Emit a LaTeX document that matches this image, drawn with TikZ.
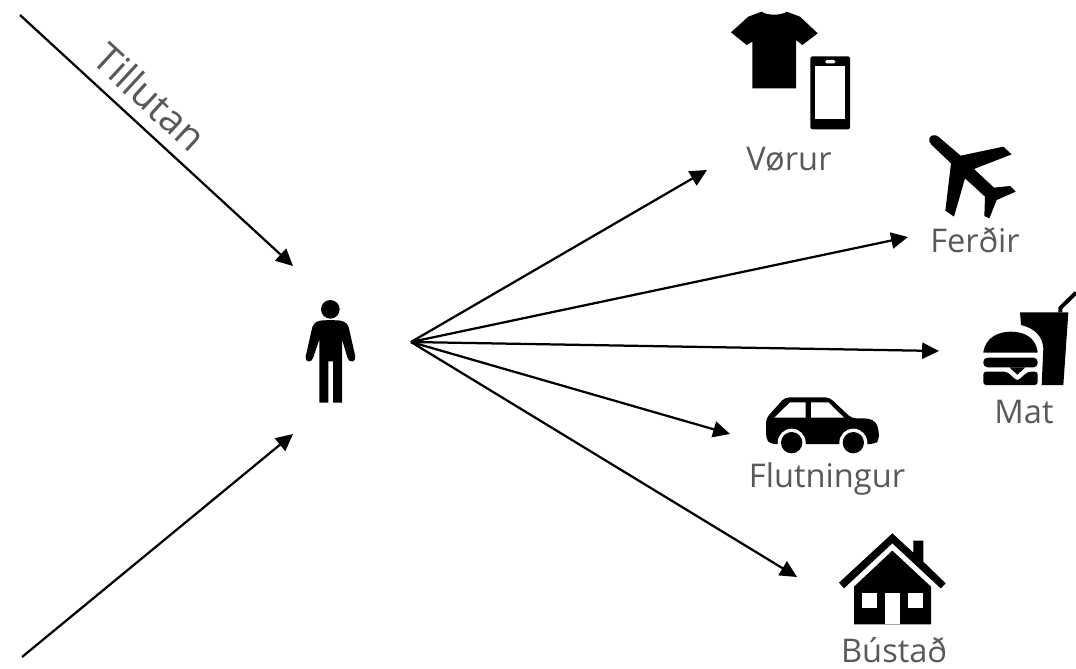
\documentclass[tikz,border=0pt]{standalone}
\usepackage{fontspec}
\setmainfont{Open Sans}
\usetikzlibrary{arrows.meta,positioning}
\definecolor{labelgray}{HTML}{595959}
\tikzset{
  flow/.style={line width=1.6pt,-{Triangle[length=12pt,width=11.5pt]}},
  itemlabel/.style={text=labelgray,font=\fontsize{23.2}{27}\selectfont,inner sep=0pt,anchor=base},
  icon/.style={fill=black,draw=none}
}
\begin{document}
\begin{tikzpicture}[x=0.025cm,y=-0.025cm]
\useasboundingbox (0,0) rectangle (1076,669);
% Arrow ends
\coordinate (hub) at (411,342);
\coordinate (topin) at (20,15);
\coordinate (topend) at (293,266);
\coordinate (lowin) at (22,657);
\coordinate (lowend) at (293,434);
\coordinate (goods) at (707,170);
\coordinate (travel) at (908,237);
\coordinate (food) at (939,351);
\coordinate (transport) at (730,434);
\coordinate (housing) at (797,577);
\draw[flow] (topin) -- (topend);
\draw[flow] (lowin) -- (lowend);
\foreach \target in {goods,travel,food,transport,housing}
  \draw[flow] (hub) -- (\target);
% Labels
\node[itemlabel,font=\fontsize{28}{32}\selectfont,rotate=-42.7] (tillutan) at (140,108) {Tillutan};
\node[itemlabel] (vorur) at (789,171) {Vørur};
\node[itemlabel] (ferdir) at (975,252) {Ferðir};
\node[itemlabel] (mat) at (1024,423) {Mat};
\node[itemlabel] (flutningur) at (827,487) {Flutningur};
\node[itemlabel] (bustad) at (894,662) {Bústað};
% Person
\begin{scope}[shift={(270,240)},scale=1/3]
\fill[icon] (181,208) circle (28);
\fill[icon] (150,242) .. controls (165,240) and (197,240) .. (212,242)
  .. controls (228,245) and (236,255) .. (238,270) -- (256,350)
  .. controls (258,368) and (236,370) .. (232,352) -- (216,298)
  -- (216,488) -- (189,488) -- (189,364) -- (175,364) -- (175,488) -- (148,488)
  -- (148,298) -- (130,352) .. controls (126,370) and (104,368) .. (107,350)
  -- (125,270) .. controls (127,255) and (135,245) .. (150,242) -- cycle;
\end{scope}
% Shirt and phone
\begin{scope}[shift={(720,0)},scale=1/3]
\fill[icon] (125,35) .. controls (140,47) and (185,47) .. (200,35) -- (240,50) -- (293,100)
  -- (247,135) -- (228,120) -- (228,265) -- (97,265) -- (97,125) -- (80,135) -- (33,97)
  -- (85,50) -- cycle;
\fill[icon,rounded corners=1.5pt] (271,169) rectangle (390,388);
\fill[white] (286,198) rectangle (376,358);
\fill[white,rounded corners=1pt] (316,180) rectangle (346,190);
% Plane
\fill[icon] (628,415) .. controls (632,405) and (645,402) .. (655,410) -- (722,467) -- (850,440)
  -- (875,463) -- (762,507) -- (822,563) -- (870,558) -- (887,575) -- (830,600) -- (808,655)
  -- (793,648) -- (795,590) -- (735,535) -- (702,650) -- (676,632) -- (693,490) -- (635,435)
  .. controls (628,428) and (626,422) .. (628,415) -- cycle;
\end{scope}
% Burger and cup, car, house
\begin{scope}[shift={(740,280)},scale=1/3]
\fill[icon] (730,218) .. controls (735,170) and (780,155) .. (812,155)
  .. controls (850,155) and (888,170) .. (893,218) -- cycle;
\fill[icon,rounded corners=3pt] (730,233) rectangle (893,262);
\fill[icon] (808,262) -- (832,284) -- (856,262) -- cycle;
\fill[icon,rounded corners=2pt] (730,275) -- (800,275) -- (832,303) -- (864,275) -- (893,275)
  -- (893,315) -- (730,315) -- cycle;
\fill[icon] (840,97) -- (985,97) -- (970,315) -- (905,315) -- (910,205)
  .. controls (908,170) and (885,145) .. (843,135) -- cycle;
\draw[line width=2.8pt] (961,97) -- (961,84) -- (1008,38);
% Car
\fill[icon,rounded corners=3pt] (78,415) -- (135,352) -- (268,352) -- (335,415) -- (385,415)
  -- (408,425) -- (417,455) -- (417,480) -- (405,492) -- (90,492) -- (78,475) -- cycle;
\fill[white] (103,413) -- (150,367) -- (197,367) -- (197,413) -- cycle;
\fill[white] (213,367) -- (265,367) -- (312,413) -- (213,413) -- cycle;
\foreach \wheel in {155,340} {
  \fill[white] (\wheel,488) circle (42);
  \fill[icon] (\wheel,488) circle (32);
}
% House
\fill[icon] (457,760) -- (520,818) -- (520,782) -- (550,782) -- (550,845) -- (617,910) -- (602,925)
  -- (457,790) -- (312,925) -- (297,908) -- cycle;
\fill[icon] (457,812) -- (573,920) -- (573,1033) -- (342,1033) -- (342,920) -- cycle;
\fill[white] (365,938) rectangle (412,985);
\fill[white] (503,938) rectangle (550,985);
\fill[white] (435,938) rectangle (480,1033);
\end{scope}
\end{tikzpicture}
\end{document}
